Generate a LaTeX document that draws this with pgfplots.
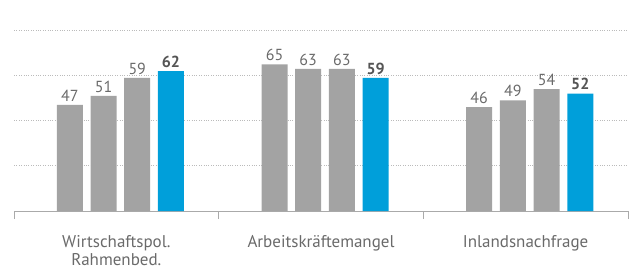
\documentclass[border=0pt]{standalone}
\usepackage{fontspec}
\setmainfont{PT Sans}
\usepackage{pgfplots}
\pgfplotsset{compat=1.18}
\definecolor{barg}{HTML}{A3A3A3}
\definecolor{barb}{HTML}{009FDA}
\definecolor{txt}{HTML}{6A6A6A}
\definecolor{txtb}{HTML}{555555}
\definecolor{gridc}{HTML}{BBBBBB}
\definecolor{axc}{HTML}{AAAAAA}
\begin{document}
\begin{tikzpicture}
\begin{axis}[
  scale only axis, width=614pt, height=211pt,
  xmin=0, xmax=3, ymin=0, ymax=93.5,
  /pgf/number format/assume math mode=true,
  axis x line*=bottom, axis y line*=left,
  y axis line style={draw=none},
  x axis line style={draw=axc, line width=0.8pt, -},
  ytick={20,40,60,80}, yticklabels={}, ytick style={draw=none},
  ymajorgrids, grid style={dotted, draw=gridc, line width=0.8pt},
  xtick={0.5,1.5,2.5},
  xticklabels={{Wirtschaftspol.\\Rahmenbed.},Arbeitskräftemangel,Inlandsnachfrage},
  xticklabel style={align=center, font=\fontsize{17}{18}\selectfont, text=txt, yshift=-21pt},
  tick align=outside, major tick length=0pt,
  x tick style={draw=axc, line width=0.8pt},
  extra x ticks={0,1,2,3}, extra x tick labels={},
  extra x tick style={major tick length=8pt},
  nodes near coords,
  every node near coord/.append style={font=\fontsize{16}{17}\selectfont, text=txt, anchor=south},
  clip=false,
]
\addplot[ybar, fill=barg, draw=none, bar width=26pt, bar shift=-46.5pt,
  every node near coord/.append style={xshift=-46.5pt}] coordinates {(0.5,47)(1.5,65)(2.5,46)};
\addplot[ybar, fill=barg, draw=none, bar width=26pt, bar shift=-12.8pt,
  every node near coord/.append style={xshift=-12.8pt}] coordinates {(0.5,51)(1.5,63)(2.5,49)};
\addplot[ybar, fill=barg, draw=none, bar width=26pt, bar shift=20.9pt,
  every node near coord/.append style={xshift=20.9pt}] coordinates {(0.5,59)(1.5,63)(2.5,54)};
\addplot[ybar, fill=barb, draw=none, bar width=26pt, bar shift=54.6pt,
  every node near coord/.append style={xshift=54.6pt, font=\fontsize{16}{17}\selectfont\bfseries, text=txtb}] coordinates {(0.5,62)(1.5,59)(2.5,52)};
\end{axis}
\pgfresetboundingbox
\path (-14pt,-60pt) rectangle (618pt,211pt);
\end{tikzpicture}
\end{document}
